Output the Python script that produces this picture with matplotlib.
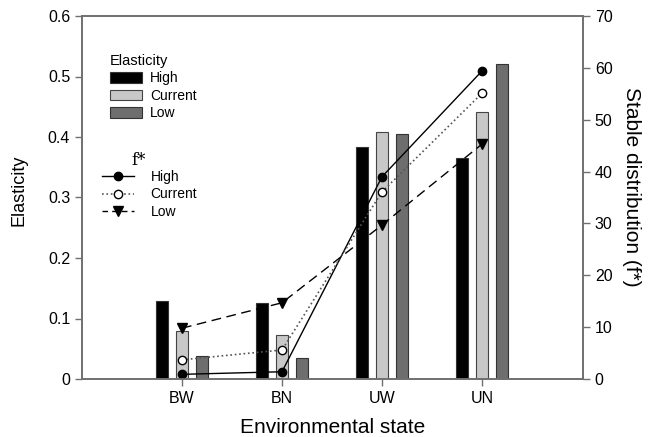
import matplotlib
matplotlib.use("Agg")
import matplotlib.pyplot as plt
import numpy as np
from matplotlib.patches import Patch
from matplotlib.lines import Line2D

plt.rcParams['font.family'] = ['Liberation Sans', 'DejaVu Sans']

categories = ["BW", "BN", "UW", "UN"]
elas_high = [0.129, 0.126, 0.384, 0.365]
elas_current = [0.080, 0.073, 0.408, 0.442]
elas_low = [0.038, 0.035, 0.405, 0.521]

f_high = [0.9, 1.4, 39.0, 59.4]
f_current = [3.7, 5.6, 36.1, 55.1]
f_low = [9.8, 14.7, 29.7, 45.3]

spine_c = "#707070"
fig = plt.figure(figsize=(6.61, 4.37), dpi=100)
ax = fig.add_axes([82/661, 1-379/437, 501/661, 363/437])
ax2 = ax.twinx()

x = np.arange(len(categories))
w = 0.12
ax.bar(x - 0.2, elas_high, w, color="black", edgecolor="#333333", linewidth=0.8)
ax.bar(x, elas_current, w, color="#c8c8c8", edgecolor="#444444", linewidth=0.8)
ax.bar(x + 0.2, elas_low, w, color="#6e6e6e", edgecolor="#333333", linewidth=0.8)

ax2.plot(x, f_high, '-', color="black", lw=1.0, marker='o', ms=6,
         mfc='black', mec='black')
ax2.plot(x, f_current, ':', color="#555555", lw=1.2, marker='o', ms=6,
         mfc='white', mec='black', mew=1.0)
ax2.plot(x, f_low, '--', color="black", lw=1.0, dashes=(7, 4), marker='v', ms=7,
         mfc='black', mec='black')

ax.set_xlim(-1, 4.01)
ax.set_ylim(0, 0.6)
ax2.set_ylim(0, 70)
ax.set_xticks(x)
ax.set_xticklabels(categories)
ax.set_yticks(np.arange(0, 0.61, 0.1))
ax.set_yticklabels(["0", "0.1", "0.2", "0.3", "0.4", "0.5", "0.6"])
ax2.set_yticks(np.arange(0, 71, 10))

for a in (ax, ax2):
    for s in a.spines.values():
        s.set_color(spine_c)
        s.set_linewidth(1.2)
    a.tick_params(colors=spine_c, labelcolor="black", labelsize=11.5,
                  length=5, width=1.0, direction='out')

ax.set_xlabel("Environmental state", fontsize=15, labelpad=9)
ax.set_ylabel("Elasticity", fontsize=13, labelpad=13)
ax.yaxis.set_label_coords(-0.108, 0.52)
ax2.set_ylabel("Stable distribution (f*)", fontsize=15, rotation=270, labelpad=22)
ax2.yaxis.set_label_coords(1.115, 0.53)

h1 = [Patch(facecolor="black", edgecolor="#333333", lw=0.8),
      Patch(facecolor="#c8c8c8", edgecolor="#444444", lw=0.8),
      Patch(facecolor="#6e6e6e", edgecolor="#333333", lw=0.8)]
leg1 = ax2.legend(h1, ["High", "Current", "Low"], title="Elasticity",
                  loc='upper left', bbox_to_anchor=((110-82)/501, (379-54)/363),
                  frameon=False, fontsize=10, title_fontsize=10.5,
                  handlelength=2.3, handleheight=0.8, handletextpad=0.6,
                  labelspacing=0.25, borderpad=0, borderaxespad=0,
                  alignment='left')
ax2.add_artist(leg1)

h2 = [Line2D([], [], ls='-', color='black', lw=1.0, marker='o', ms=6, mfc='black'),
      Line2D([], [], ls=':', color='#555555', lw=1.2, marker='o', ms=6, mfc='white', mec='black'),
      Line2D([], [], ls='--', color='black', lw=1.0, dashes=(4, 3), marker='v', ms=7, mfc='black')]
leg2 = ax2.legend(h2, ["High", "Current", "Low"],
                  loc='upper left', bbox_to_anchor=((102-82)/501, (379-170)/363),
                  frameon=False, fontsize=10,
                  handlelength=2.3, handletextpad=1.2,
                  labelspacing=0.25, borderpad=0, borderaxespad=0)
ax2.text((131-82)/501, (379-169)/363, "f*", transform=ax2.transAxes,
         family=['DejaVu Serif', 'Liberation Serif'], fontsize=12, va='bottom', ha='left')

fig.savefig("out.png", dpi=100)
